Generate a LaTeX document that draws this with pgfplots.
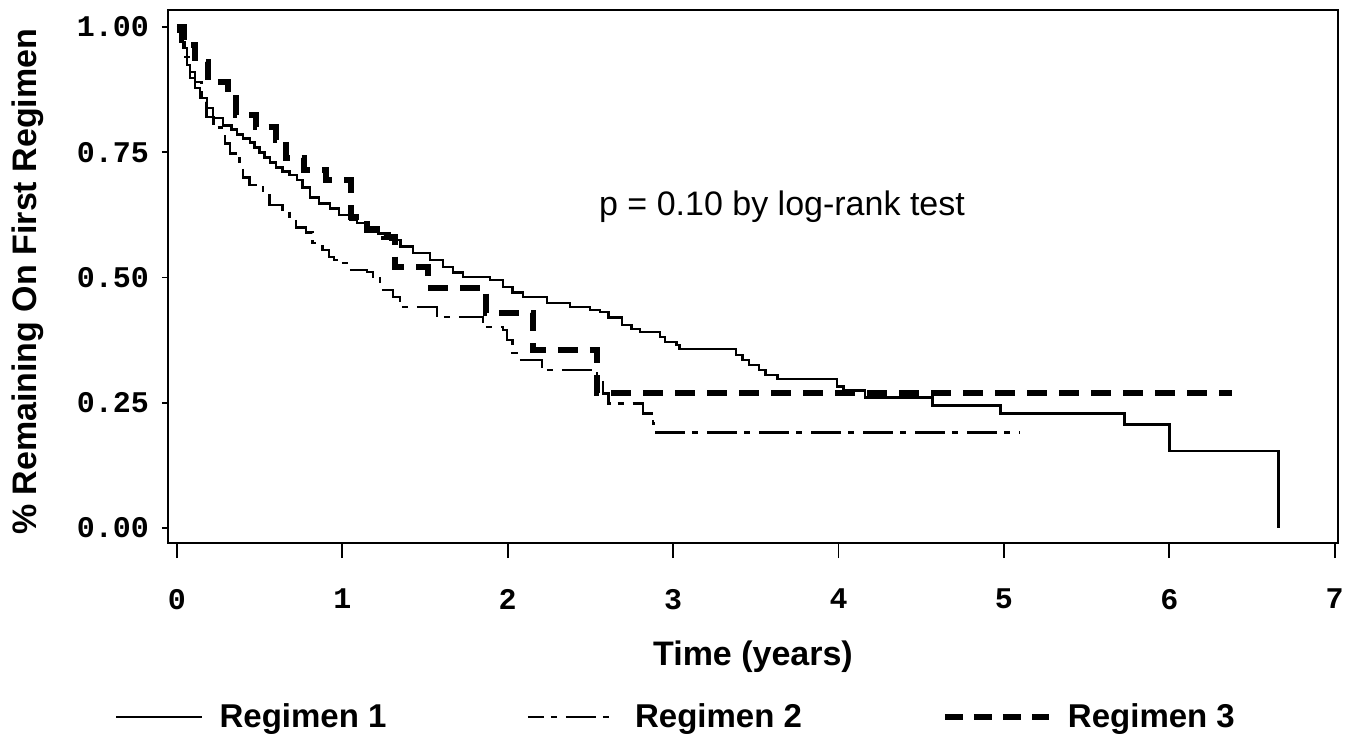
\documentclass[border=0pt]{standalone}
\usepackage{fontspec}
\setmainfont{Liberation Sans}
\newfontfamily\tickfont{Liberation Mono}
\usepackage{pgfplots}
\pgfplotsset{compat=1.18}
\begin{document}
\begin{tikzpicture}
\begin{axis}[
  scale only axis, width=585pt, height=266.5pt,
  xmin=-0.054, xmax=7.02, ymin=-0.03, ymax=1.034,
  axis line style={line width=0.9pt},
  tick align=outside, major tick length=7.5pt,
  ytick style={/pgfplots/major tick length=3pt},
  tick style={line width=0.9pt, black},
  xtick={0,1,2,3,4,5,6,7}, ytick={0,0.25,0.5,0.75,1},
  yticklabels={0.00,0.25,0.50,0.75,1.00},
  xtick pos=bottom, ytick pos=left,
  /pgf/number format/assume math mode=true,
  ticklabel style={font=\tickfont\bfseries\fontsize{15}{15}\selectfont},
  xticklabel style={yshift=-12pt},
  yticklabel style={xshift=1.5pt},
  xlabel={Time (years)}, ylabel={\% Remaining On First Regimen},
  every axis x label/.style={at={(rel axis cs:0.5,0)}, anchor=base, yshift=-61pt,
    font=\bfseries\fontsize{17}{17}\selectfont},
  every axis y label/.style={at={(rel axis cs:0,0.49)}, xshift=-65.5pt, rotate=90, anchor=base,
    font=\bfseries\fontsize{17}{17}\selectfont},
  legend columns=3,
  legend cell align=left,
  legend style={draw=none, fill=none, at={(rel axis cs:0.435,0)}, anchor=center, yshift=-87pt,
    font=\bfseries\fontsize{16.5}{16.5}\selectfont,
    /tikz/every odd column/.append style={column sep=6pt},
    /tikz/every even column/.append style={column sep=68pt}},
]
\addplot[const plot, black, line width=1.3pt,
  legend image code/.code={\draw[black, line width=1.3pt] (0pt,0pt) -- (43pt,0pt);}]
coordinates {
(0,1.0) (0.006,0.99) (0.02,0.975) (0.036,0.958) (0.06,0.924) (0.079,0.898)
(0.109,0.878) (0.139,0.858) (0.181,0.838) (0.218,0.818) (0.278,0.804) (0.33,0.795)
(0.363,0.785) (0.40,0.778) (0.441,0.77) (0.47,0.76) (0.50,0.75) (0.53,0.74)
(0.562,0.729) (0.60,0.72) (0.64,0.712) (0.68,0.705) (0.725,0.695) (0.76,0.68)
(0.804,0.66) (0.86,0.648) (0.925,0.638) (0.98,0.625) (1.046,0.615) (1.088,0.609)
(1.15,0.60) (1.22,0.588) (1.288,0.575) (1.35,0.562) (1.427,0.549) (1.53,0.535)
(1.608,0.521) (1.67,0.51) (1.729,0.501) (1.892,0.495) (1.971,0.481) (2.03,0.47)
(2.092,0.461) (2.237,0.449) (2.376,0.441) (2.497,0.435) (2.557,0.431) (2.61,0.42)
(2.69,0.405) (2.75,0.397) (2.80,0.391) (2.92,0.381) (2.95,0.371) (3.02,0.365)
(3.04,0.357) (3.38,0.345) (3.42,0.335) (3.46,0.325) (3.52,0.315) (3.56,0.305)
(3.63,0.297) (3.99,0.283) (4.03,0.275) (4.16,0.261) (4.57,0.245) (4.98,0.229)
(5.73,0.207) (6.00,0.154) (6.66,0.0)
};
\addlegendentry{Regimen 1}
\addplot[const plot, black, line width=1.3pt, dash pattern=on 15pt off 3.5pt on 3pt off 4.5pt,
  legend image code/.code={\draw[black, line width=1.3pt, dash pattern=on 8pt off 3.5pt on 3pt off 4.5pt on 15pt off 3.5pt on 3pt off 4.5pt on 15pt] (0pt,0pt) -- (45pt,0pt);}]
coordinates {
(0,1.0) (0.02,0.97) (0.05,0.94) (0.08,0.91) (0.11,0.89) (0.15,0.85) (0.18,0.82)
(0.22,0.80) (0.27,0.788) (0.29,0.768) (0.32,0.748) (0.38,0.728) (0.40,0.70)
(0.44,0.685) (0.50,0.68) (0.52,0.668) (0.56,0.645) (0.64,0.635) (0.68,0.619)
(0.72,0.60) (0.78,0.59) (0.82,0.569) (0.88,0.555) (0.92,0.541) (0.95,0.535)
(0.967,0.529) (1.046,0.515) (1.149,0.511) (1.185,0.501) (1.227,0.475) (1.306,0.461)
(1.348,0.441) (1.572,0.421) (1.85,0.401) (1.971,0.395) (1.995,0.375) (2.03,0.349)
(2.056,0.335) (2.207,0.315) (2.539,0.295) (2.576,0.269) (2.61,0.249) (2.817,0.229)
(2.878,0.209) (2.884,0.19) (5.10,0.19)
};
\addlegendentry{Regimen 2}
\addplot[const plot, black, line width=3pt, dash pattern=on 10pt off 6pt,
  legend image code/.code={\draw[black, line width=3pt, dash pattern=on 9pt off 5.5pt] (0pt,0pt) -- (52pt,0pt);}]
coordinates {
(0,1.0) (0.04,0.965) (0.11,0.93) (0.19,0.89) (0.31,0.865) (0.36,0.825) (0.48,0.80)
(0.60,0.775) (0.66,0.738) (0.77,0.715) (0.90,0.695) (1.05,0.62) (1.15,0.595)
(1.25,0.58) (1.32,0.52) (1.52,0.48) (1.87,0.43) (2.15,0.355) (2.54,0.27) (6.38,0.27)
};
\addlegendentry{Regimen 3}
\node[anchor=west, font=\fontsize{17}{17}\selectfont] at (axis cs:2.51,0.641) {p = 0.10 by log-rank test};
\coordinate (BL) at (rel axis cs:0,0);
\coordinate (TR) at (rel axis cs:1,1);
\end{axis}
\pgfresetboundingbox
\path ([shift={(-84pt,-97pt)}]BL) rectangle ([shift={(10pt,5pt)}]TR);
\end{tikzpicture}
\end{document}
